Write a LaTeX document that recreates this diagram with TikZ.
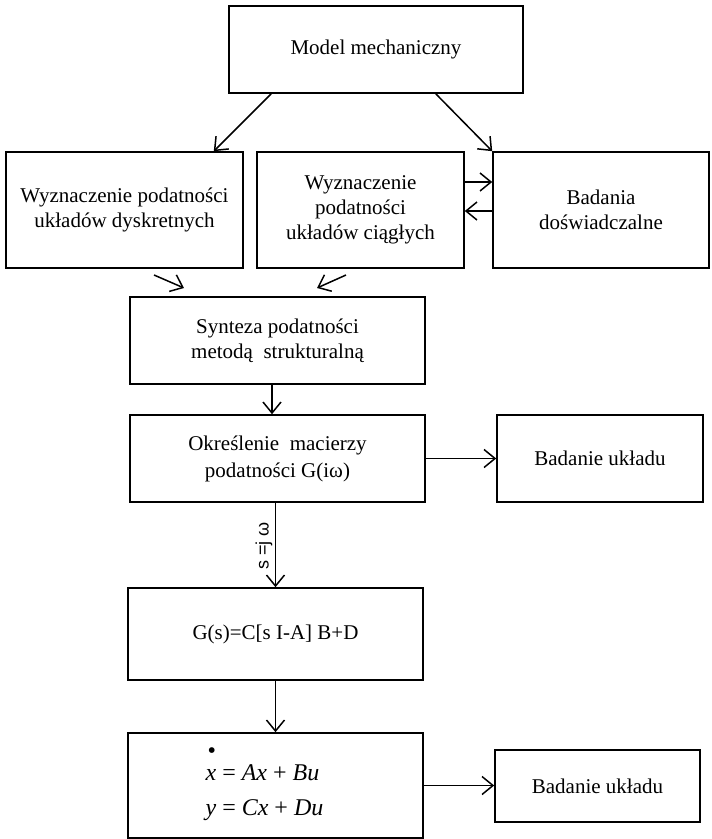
\documentclass[tikz,border=0pt]{standalone}
\usepackage{fontspec}
\setmainfont{Liberation Serif}
\newfontfamily\labelfont{Liberation Sans}
\usetikzlibrary{arrows.meta,calc}
\begin{document}
\begin{tikzpicture}[x=1pt,y=-1pt,
  box/.style={draw,line width=1.6pt,inner sep=0pt,align=center,font=\fontsize{21}{25}\selectfont},
  arr/.style={line width=1.5pt,-{Straight Barb[length=11pt,width=18pt,line width=1.5pt]}}]
\useasboundingbox (0,0) rectangle (712,839);
% boxes
\node[box,minimum width=294pt,minimum height=87pt] (top) at (376,49.5) {Model mechaniczny};
\node[box,minimum width=237pt,minimum height=116pt] (left) at (124.5,210) {Wyznaczenie podatności\\układów dyskretnych};
\node[box,minimum width=207pt,minimum height=116pt] (mid) at (360.5,210) {Wyznaczenie\\podatności\\układów ciągłych};
\node[box,minimum width=216pt,minimum height=116pt] (right) at (601,210) {Badania\\doświadczalne};
\node[box,minimum width=295pt,minimum height=87pt] (syn) at (277.5,340.5) {Synteza podatności\\metodą\ \ strukturalną};
\node[box,minimum width=295pt,minimum height=87pt,font=\fontsize{21}{27}\selectfont] (okr) at (277.5,458.5) {Określenie\ \ macierzy\\podatności G(iω)};
\node[box,minimum width=206pt,minimum height=87pt] (bad1) at (600,458.5) {Badanie układu};
\node[box,minimum width=295pt,minimum height=92pt] (gs) at (275.5,634) {G(s)=C[s I-A] B+D};
\node[box,minimum width=295pt,minimum height=105pt,font=\fontsize{24}{28}\selectfont] (state) at (275.5,785.5)
  {\hspace*{-22pt}\begin{tabular}{@{}l@{}}\rlap{\raisebox{0.9em}{\hspace{0.08em}•}}\textit{x} = \textit{Ax} + \textit{Bu}\\[7pt]\textit{y} = \textit{Cx} + \textit{Du}\end{tabular}};
\node[box,minimum width=205pt,minimum height=72pt] (bad2) at (597.5,786) {Badanie układu};
% free arrow ends
\coordinate (d1s) at (154,275);
\coordinate (d1e) at (184,288);
\coordinate (d2s) at (346,275);
\coordinate (d2e) at (317,288);
% connectors
\draw[arr] ([xshift=43pt]top.south west) -- ([xshift=-30pt]left.north east);
\draw[arr] ([xshift=-88pt]top.south east) -- (right.north west);
\draw[arr] ([yshift=28pt]mid.east) -- ([yshift=28pt]right.west);
\draw[arr] ([yshift=-1pt]right.west) -- ([yshift=-1pt]mid.east);
\draw[arr] (d1s) -- (d1e);
\draw[arr] (d2s) -- (d2e);
\draw[arr] ([xshift=-5.5pt]syn.south) -- ([xshift=-5.5pt]okr.north);
\draw[arr] (okr.east) -- (bad1.west);
\draw[arr] (okr.south -| gs.north) -- (gs.north);
\node[rotate=90,inner sep=0pt,font=\labelfont\fontsize{18}{20}\selectfont] (lab) at (264,546) {s =j ω};
\draw[arr] (gs.south) -- (state.north);
\draw[arr] (state.east) -- (state.east -| bad2.west);
\end{tikzpicture}
\end{document}
